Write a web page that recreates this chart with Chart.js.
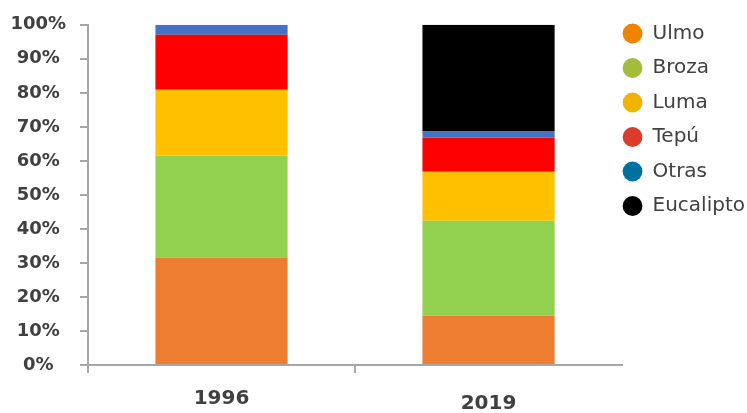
<!DOCTYPE html>
<html>
<head>
<meta charset="utf-8">
<script src="https://cdn.jsdelivr.net/npm/chart.js@4/dist/chart.umd.min.js"></script>
<style>
  html, body { margin: 0; padding: 0; background: #ffffff; }
  #wrap { width: 747px; height: 413px; }
</style>
</head>
<body>
<div id="wrap"><canvas id="c" width="747" height="413"></canvas></div>
<script>
const categories = ['1996', '2019'];
const seriesNames = ['Ulmo', 'Broza', 'Luma', 'Tepú', 'Otras', 'Eucalipto'];
const ulmo = [31.6, 14.5];
const broza = [30.0, 27.9];
const luma = [19.3, 14.4];
const tepu = [16.2, 10.1];
const otras = [2.9, 1.9];
const eucalipto = [0, 31.2];
const barColors = ['#ED7D31', '#92D050', '#FFC000', '#FF0000', '#4472C4', '#000000'];
const legendColors = ['#F08300', '#A2BD3B', '#F0B400', '#DC3C2C', '#00719E', '#000000'];
const yTicks = [0, 10, 20, 30, 40, 50, 60, 70, 80, 90, 100];

const values = [ulmo, broza, luma, tepu, otras, eucalipto];
const datasets = seriesNames.map((name, i) => ({
  label: name,
  data: values[i],
  backgroundColor: barColors[i],
  borderWidth: 0,
  categoryPercentage: 0.495,
  barPercentage: 1.0
}));

const axisGray = '#A6A6A6';
const textColor = '#404040';

// Let the plot area run a little under the legend's left padding
const legendShift = 14;
const legendShiftPlugin = {
  id: 'legendShift',
  beforeLayout(chart) {
    const lg = chart.legend;
    if (lg && !lg.__patched) {
      const orig = lg.fit;
      lg.fit = function () { orig.call(this); this.width -= legendShift; };
      lg.__patched = true;
    }
  },
  afterLayout(chart) {
    const lg = chart.legend;
    if (lg) { lg.left -= legendShift; }
  }
};

new Chart(document.getElementById('c'), {
  type: 'bar',
  data: { labels: categories, datasets },
  plugins: [legendShiftPlugin],
  options: {
    responsive: false,
    animation: false,
    devicePixelRatio: 1,
    layout: { padding: { left: 0, right: -8, top: 9, bottom: 0 } },
    plugins: {
      tooltip: { enabled: false },
      legend: {
        position: 'right',
        align: 'start',
        labels: {
          usePointStyle: true,
          pointStyle: 'circle',
          boxWidth: 20,
          boxHeight: 14,
          padding: 14.5,
          color: textColor,
          font: { family: 'DejaVu Sans', size: 20, weight: 'normal' },
          generateLabels: (chart) => seriesNames.map((name, i) => ({
            text: name,
            fillStyle: legendColors[i],
            strokeStyle: legendColors[i],
            lineWidth: 0,
            pointStyle: 'circle',
            fontColor: textColor,
            hidden: false,
            datasetIndex: i
          }))
        }
      }
    },
    scales: {
      x: {
        stacked: true,
        afterFit: (axis) => { axis.height = 48; },
        border: { color: axisGray, width: 2 },
        grid: {
          offset: true,
          drawOnChartArea: false,
          drawTicks: true,
          tickLength: 8,
          lineWidth: 2,
          color: (ctx) => (ctx.type === 'tick' && ctx.index < categories.length) ? axisGray : 'rgba(0,0,0,0)'
        },
        ticks: {
          color: textColor,
          padding: 14,
          font: (ctx) => ({ family: 'DejaVu Sans', size: 20, weight: 'bold', lineHeight: ctx.index === 1 ? 1.7 : 1.2 })
        }
      },
      y: {
        stacked: true,
        min: 0,
        max: 100,
        afterBuildTicks: (axis) => { axis.ticks = yTicks.map(v => ({ value: v })); },
        afterFit: (axis) => { axis.width = 88; },
        border: { color: axisGray, width: 2 },
        grid: {
          drawOnChartArea: false,
          drawTicks: true,
          tickLength: 8,
          lineWidth: 2,
          color: axisGray
        },
        ticks: {
          color: textColor,
          padding: 14,
          crossAlign: 'center',
          font: { family: 'DejaVu Sans', size: 18, weight: 'bold' },
          callback: (v) => v + '%'
        }
      }
    }
  }
});
</script>
</body>
</html>
